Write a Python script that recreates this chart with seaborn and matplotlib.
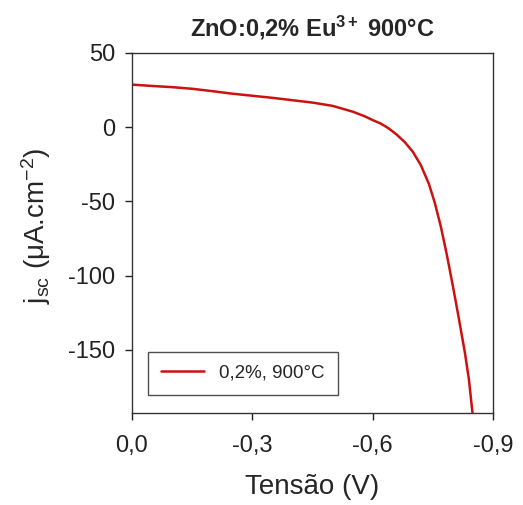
import numpy as np
import pandas as pd
import matplotlib
matplotlib.use("Agg")
import matplotlib.pyplot as plt
import seaborn as sns

tensao = [0.0, -0.05, -0.10, -0.15, -0.20, -0.25, -0.30, -0.35, -0.40, -0.45,
          -0.50, -0.55, -0.58, -0.60, -0.62, -0.64, -0.66, -0.68, -0.70, -0.72,
          -0.74, -0.755, -0.77, -0.785, -0.80, -0.815, -0.83, -0.84, -0.849]
jsc = [28.7, 27.8, 27.0, 25.9, 24.3, 22.6, 21.2, 19.8, 18.2, 16.6,
       14.4, 10.5, 7.4, 4.8, 2.5, -0.8, -5.0, -10.0, -16.5, -25.5,
       -38.0, -51.0, -67.0, -86.0, -107.0, -129.0, -152.0, -170.0, -192.7]
serie = "0,2%, 900°C"

df = pd.DataFrame({"Tensao": tensao, "jsc": jsc})

sns.set_style("ticks")
plt.rcParams['font.family'] = ['Liberation Sans', 'DejaVu Sans']
plt.rcParams['mathtext.fontset'] = 'custom'
plt.rcParams['mathtext.rm'] = 'Liberation Sans'
plt.rcParams['mathtext.it'] = 'Liberation Sans'
plt.rcParams['mathtext.bf'] = 'Liberation Sans:bold'
plt.rcParams['axes.unicode_minus'] = False

fig = plt.figure(figsize=(5.23, 5.05), dpi=100)
ax = fig.add_axes([132 / 523, 1 - 413 / 505, 361 / 523, 360 / 505])

sns.lineplot(data=df, x="Tensao", y="jsc", color="#cc1111", lw=1.8,
             label=serie, ax=ax, estimator=None, sort=False)

ax.set_xlim(0.0, -0.9)
ax.set_ylim(-192.5, 50)
ax.set_xticks([0.0, -0.3, -0.6, -0.9])
ax.set_xticklabels(["0,0", "-0,3", "-0,6", "-0,9"])
ax.set_yticks([50, 0, -50, -100, -150])
ax.tick_params(direction="out", length=5, width=1, labelsize=17, colors="#222222")
ax.tick_params(axis="x", pad=11)
ax.tick_params(axis="y", pad=7)

for s in ax.spines.values():
    s.set_visible(True)
    s.set_color("#333333")
    s.set_linewidth(1)

ax.set_xlabel("Tensão (V)", fontsize=20, labelpad=12)
ax.set_ylabel(r"j$_{\mathrm{sc}}$ ($\mathrm{\mu}$A.cm$^{-2}$)", fontsize=20)
ax.yaxis.set_label_coords(-0.22, 0.52)
ax.set_title(r"ZnO:0,2% Eu$^{\mathbf{3+}}$ 900°C", fontsize=17, fontweight="bold", pad=12)

leg = ax.legend(loc="lower left", bbox_to_anchor=(0.044, 0.05), borderaxespad=0,
                fontsize=13.5, frameon=True, fancybox=False, edgecolor="#222222",
                handlelength=2.3, borderpad=0.7)
leg.get_frame().set_linewidth(1)

fig.savefig("out.png", dpi=100)
